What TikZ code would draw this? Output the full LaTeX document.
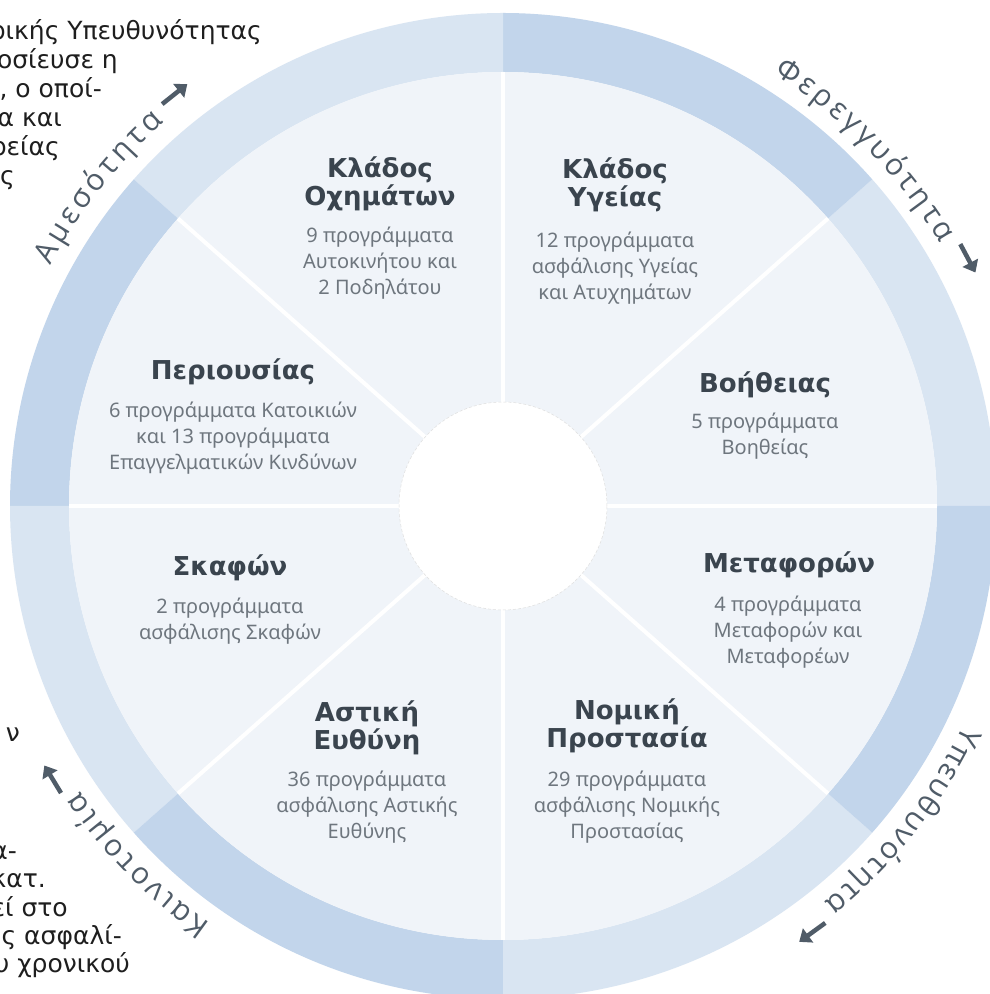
\documentclass[tikz,border=0pt]{standalone}
\usepackage{fontspec}
\setmainfont{DejaVu Sans}
\newfontfamily\titlefont{DejaVu Sans}
\newfontfamily\bodyfont{Noto Sans}
\newfontfamily\arcfont{Open Sans}
\usetikzlibrary{decorations.text,arrows.meta}
\definecolor{ringL}{RGB}{217,229,242}
\definecolor{ringD}{RGB}{194,213,235}
\definecolor{discc}{RGB}{240,244,249}
\definecolor{titlec}{RGB}{58,68,78}
\definecolor{bodyc}{RGB}{110,118,126}
\definecolor{arcc}{RGB}{80,92,104}
\definecolor{pagetext}{RGB}{30,30,30}
\newcommand\ringseg[3]{%
  \fill[#1] ([shift={(#2:493)}]c) arc[start angle=#2,end angle=#3,radius=493]
    -- ([shift={(#3:434)}]c) arc[start angle=#3,end angle=#2,radius=434] -- cycle;}
\newcommand\divline[1]{%
  \draw[divider] ([shift={(#1:104)}]c) -- ([shift={(#1:434)}]c);}
\tikzset{
  titlebox/.style={align=center,text=titlec,font=\titlefont\bfseries\fontsize{26}{28}\selectfont,inner sep=0pt},
  bodybox/.style={align=center,text=bodyc,font=\bodyfont\fontsize{20}{26}\selectfont,inner sep=0pt},
  pageline/.style={anchor=base east,text=pagetext,font=\fontsize{25}{29}\selectfont,inner sep=0pt},
  divider/.style={white,line width=4pt},
  arcarrow/.style={arcc,line width=4.5pt,-{Triangle[length=11pt,width=17pt]}},
  arctext/.style={decorate,decoration={text along path,text align=fit to path,text color=arcc}}
}
\begin{document}
\begin{tikzpicture}[x=1pt,y=1pt]
\useasboundingbox (0,0) rectangle (990,994);
\clip (0,0) rectangle (990,994);
\fill[white] (0,0) rectangle (990,994);
\coordinate (c) at (503,488);
% ring
\ringseg{ringL}{0}{41.5}
\ringseg{ringD}{41.5}{90}
\ringseg{ringL}{90}{138.5}
\ringseg{ringD}{138.5}{180}
\ringseg{ringL}{180}{221.5}
\ringseg{ringD}{221.5}{270}
\ringseg{ringL}{270}{318.5}
\ringseg{ringD}{318.5}{360}
% disc
\fill[discc] (c) circle[radius=434];
\divline{0}\divline{41.5}\divline{90}\divline{138.5}
\divline{180}\divline{221.5}\divline{270}\divline{318.5}
\fill[white] (c) circle[radius=104];
\draw[gray!25,line width=0.5pt,densely dashed] (c) circle[radius=104];
% sector labels
\node[titlebox] (t1) at (380,810.5) {Κλάδος\\Οχημάτων};
\node[bodybox] (b1) at (380,731) {9 προγράμματα\\Αυτοκινήτου και\\2 Ποδηλάτου};
\node[titlebox] (t2) at (615,809) {Κλάδος\\Υγείας};
\node[bodybox] (b2) at (615,726) {12 προγράμματα\\ασφάλισης Υγείας\\και Ατυχημάτων};
\node[titlebox] (t3) at (233,622) {Περιουσίας};
\node[bodybox] (b3) at (233,556) {6 προγράμματα Κατοικιών\\και 13 προγράμματα\\Επαγγελματικών Κινδύνων};
\node[titlebox] (t4) at (230,426) {Σκαφών};
\node[bodybox] (b4) at (230,373) {2 προγράμματα\\ασφάλισης Σκαφών};
\node[titlebox] (t5) at (765,609) {Βοήθειας};
\node[bodybox] (b5) at (765,557.5) {5 προγράμματα\\Βοηθείας};
\node[titlebox] (t6) at (789,429) {Μεταφορών};
\node[bodybox] (b6) at (788,362) {4 προγράμματα\\Μεταφορών και\\Μεταφορέων};
\node[titlebox] (t7) at (367,266.5) {Αστική\\Ευθύνη};
\node[bodybox] (b7) at (367,187) {36 προγράμματα\\ασφάλισης Αστικής\\Ευθύνης};
\node[titlebox] (t8) at (627,268) {Νομική\\Προστασία};
\node[bodybox] (b8) at (627,187) {29 προγράμματα\\ασφάλισης Νομικής\\Προστασίας};
% arc texts
\path[arctext,decoration={text={|\arcfont\fontsize{30}{30}\selectfont|Αμεσότητα}}]
  ([shift={(152:512)}]c) arc[start angle=152,end angle=131.5,radius=512];
\path[arctext,decoration={text={|\arcfont\fontsize{30}{30}\selectfont|Φερεγγυότητα}}]
  ([shift={(58:510)}]c) arc[start angle=58,end angle=31,radius=510];
\path[arctext,decoration={text={|\arcfont\fontsize{30}{30}\selectfont|Υπευθυνότητα}}]
  ([shift={(-25.5:510)}]c) arc[start angle=-25.5,end angle=-51,radius=510];
\path[arctext,decoration={text={|\arcfont\fontsize{30}{30}\selectfont|Καινοτομία}}]
  ([shift={(-125:510)}]c) arc[start angle=-125,end angle=-146,radius=510];
% arrows
\coordinate (a1s) at ([shift={(130.3:527)}]c);
\coordinate (a1e) at ([shift={(126.8:527)}]c);
\coordinate (a2s) at ([shift={(29.8:527)}]c);
\coordinate (a2e) at ([shift={(26.3:527)}]c);
\coordinate (a3s) at ([shift={(-52.3:527)}]c);
\coordinate (a3e) at ([shift={(-55.8:527)}]c);
\coordinate (a4s) at ([shift={(-147:527)}]c);
\coordinate (a4e) at ([shift={(-150.5:527)}]c);
\draw[arcarrow] (a1s) -- (a1e);
\draw[arcarrow] (a2s) -- (a2e);
\draw[arcarrow] (a3s) -- (a3e);
\draw[arcarrow] (a4s) -- (a4e);
% page text cut at the left edge
\node[pageline] (p1) at (262,954) {ρικής Υπευθυνότητας};
\node[pageline] (p2) at (118,925) {οσίευσε η};
\node[pageline] (p3) at (102,896) {, ο οποί-};
\node[pageline] (p4) at (62,867) {α και};
\node[pageline] (p5) at (60,838) {ρείας};
\node[pageline] (p6) at (15,809) {ης};
\node[pageline] (p7) at (20,252) {ν};
\node[pageline] (p8) at (17,134) {α-};
\node[pageline] (p9) at (46,106) {κατ.};
\node[pageline] (p10) at (68,77) {εί στο};
\node[pageline] (p11) at (122,49) {ς ασφαλί-};
\node[pageline] (p12) at (130,21) {υ χρονικού};
\end{tikzpicture}
\end{document}
